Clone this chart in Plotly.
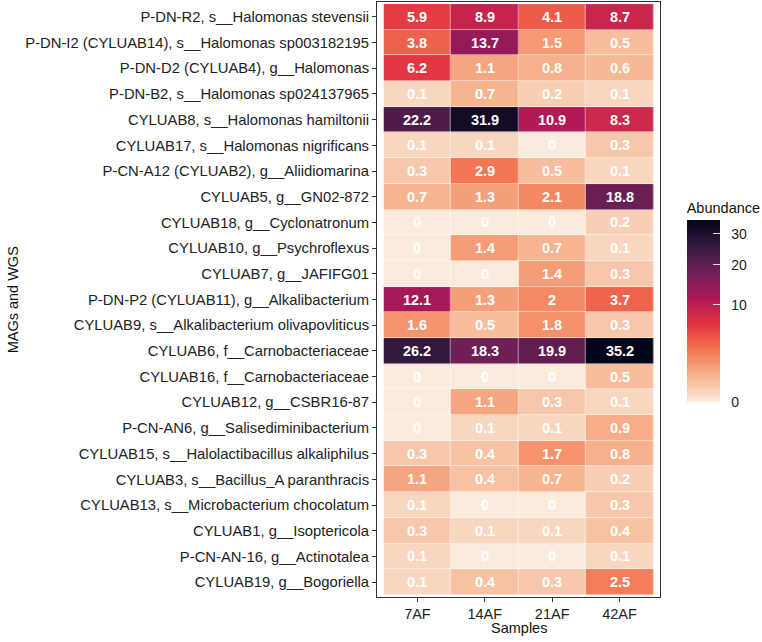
import numpy as np
import plotly.graph_objects as go

samples = ["7AF", "14AF", "21AF", "42AF"]
taxa = [
    "P-DN-R2, s__Halomonas stevensii",
    "P-DN-I2 (CYLUAB14), s__Halomonas sp003182195",
    "P-DN-D2 (CYLUAB4), g__Halomonas",
    "P-DN-B2, s__Halomonas sp024137965",
    "CYLUAB8, s__Halomonas hamiltonii",
    "CYLUAB17, s__Halomonas nigrificans",
    "P-CN-A12 (CYLUAB2), g__Aliidiomarina",
    "CYLUAB5, g__GN02-872",
    "CYLUAB18, g__Cyclonatronum",
    "CYLUAB10, g__Psychroflexus",
    "CYLUAB7, g__JAFIFG01",
    "P-DN-P2 (CYLUAB11), g__Alkalibacterium",
    "CYLUAB9, s__Alkalibacterium olivapovliticus",
    "CYLUAB6, f__Carnobacteriaceae",
    "CYLUAB16, f__Carnobacteriaceae",
    "CYLUAB12, g__CSBR16-87",
    "P-CN-AN6, g__Salisediminibacterium",
    "CYLUAB15, s__Halolactibacillus alkaliphilus",
    "CYLUAB3, s__Bacillus_A paranthracis",
    "CYLUAB13, s__Microbacterium chocolatum",
    "CYLUAB1, g__Isoptericola",
    "P-CN-AN-16, g__Actinotalea",
    "CYLUAB19, g__Bogoriella",
]
abund_7AF = [5.9, 3.8, 6.2, 0.1, 22.2, 0.1, 0.3, 0.7, 0, 0, 0, 12.1, 1.6, 26.2, 0, 0, 0, 0.3, 1.1, 0.1, 0.3, 0.1, 0.1]
abund_14AF = [8.9, 13.7, 1.1, 0.7, 31.9, 0.1, 2.9, 1.3, 0, 1.4, 0, 1.3, 0.5, 18.3, 0, 1.1, 0.1, 0.4, 0.4, 0, 0.1, 0, 0.4]
abund_21AF = [4.1, 1.5, 0.8, 0.2, 10.9, 0, 0.5, 2.1, 0, 0.7, 1.4, 2, 1.8, 19.9, 0, 0.3, 0.1, 1.7, 0.7, 0, 0.1, 0, 0.3]
abund_42AF = [8.7, 0.5, 0.6, 0.1, 8.3, 0.3, 0.1, 18.8, 0.2, 0.1, 0.3, 3.7, 0.3, 35.2, 0.5, 0.1, 0.9, 0.8, 0.2, 0.3, 0.4, 0.1, 2.5]
cbar_ticks = [0, 10, 20, 30]

vals = np.array([abund_7AF, abund_14AF, abund_21AF, abund_42AF]).T
z = np.sqrt(vals)
text = [[f"{v:g}" for v in row] for row in vals]
zmax = float(np.sqrt(vals.max()))

rocket_r = [
    [0.0, "#FAEBDD"],
    [1/7, "#F6B48F"],
    [2/7, "#F37651"],
    [3/7, "#E13342"],
    [4/7, "#AD1759"],
    [5/7, "#701F57"],
    [6/7, "#35193E"],
    [1.0, "#03051A"],
]
clear_scale = [[0.0, "rgba(0,0,0,0)"], [1.0, "rgba(0,0,0,0)"]]

FONT = "Liberation Sans, Arial, sans-serif"
PLOT_L, PLOT_R, PLOT_T, PLOT_B = 377, 663, 2, 597
PW, PH = PLOT_R - PLOT_L, PLOT_B - PLOT_T
CB_X = (690 - PLOT_L) / PW
CB_Y = 1 - (402 - PLOT_T) / PH
tickvals = list(np.sqrt(cbar_ticks))

# main heatmap: gradient colorbar with white inside tick marks
fig = go.Figure(go.Heatmap(
    x=samples, y=taxa, z=z, text=text, texttemplate="%{text}",
    textfont=dict(family=FONT, size=14.5, color="white", weight="bold"),
    colorscale=rocket_r, zmin=0, zmax=zmax,
    xgap=0.5, ygap=0.5,
    colorbar=dict(
        title=dict(text="Abundance", side="top", font=dict(family=FONT, size=14.5, color="#111")),
        tickvals=tickvals, ticktext=["", "", "", ""],
        ticks="inside", ticklen=7, tickcolor="rgba(255,255,255,0.85)", tickwidth=1,
        tickfont=dict(family=FONT, size=14, color="#222"),
        thickness=33, thicknessmode="pixels", len=203, lenmode="pixels",
        x=CB_X, xanchor="left", y=CB_Y, yanchor="bottom",
        outlinewidth=0, xpad=0, ypad=0,
    ),
))
# overlay: transparent colorbar carrying the tick labels only
fig.add_trace(go.Heatmap(
    x=samples, y=taxa, z=z, opacity=0, hoverinfo="skip",
    colorscale=clear_scale, zmin=0, zmax=zmax,
    colorbar=dict(
        title=dict(text="Abundance", side="top", font=dict(family=FONT, size=14.5, color="rgba(0,0,0,0)")),
        tickvals=tickvals, ticktext=[str(t) for t in cbar_ticks],
        ticks="outside", ticklen=9, tickcolor="rgba(0,0,0,0)",
        tickfont=dict(family=FONT, size=14, color="#222"),
        thickness=33, thicknessmode="pixels", len=203, lenmode="pixels",
        x=CB_X, xanchor="left", y=CB_Y, yanchor="bottom",
        outlinewidth=0, xpad=0, ypad=0, bgcolor="rgba(0,0,0,0)",
    ),
))

fig.update_layout(
    width=762, height=642,
    margin=dict(l=PLOT_L, r=762 - PLOT_R, t=PLOT_T, b=642 - PLOT_B),
    paper_bgcolor="white", plot_bgcolor="white",
    font=dict(family=FONT, size=14.5, color="#111"),
    annotations=[
        dict(text="MAGs and WGS", textangle=-90, showarrow=False,
             xref="paper", yref="paper", x=(9 - PLOT_L) / PW, y=0.5,
             xanchor="center", yanchor="middle",
             font=dict(family=FONT, size=14.5, color="#111")),
        dict(text="Samples", showarrow=False,
             xref="paper", yref="paper", x=0.5, y=-(628 - PLOT_B) / PH,
             xanchor="center", yanchor="middle",
             font=dict(family=FONT, size=14.5, color="#111")),
    ],
)
fig.update_xaxes(
    range=[-0.6, 3.6], showline=True, linecolor="#333", linewidth=1, mirror=True,
    ticks="outside", ticklen=4, tickcolor="#333", showgrid=False, zeroline=False,
    tickfont=dict(family=FONT, size=14.5, color="#222"),
)
fig.update_yaxes(
    range=[22.58, -0.58], showline=True, linecolor="#333", linewidth=1, mirror=True,
    ticks="outside", ticklen=4, tickcolor="#333", showgrid=False, zeroline=False,
    tickfont=dict(family=FONT, size=14.8, color="#222"),
)

fig.write_html("out.html")
